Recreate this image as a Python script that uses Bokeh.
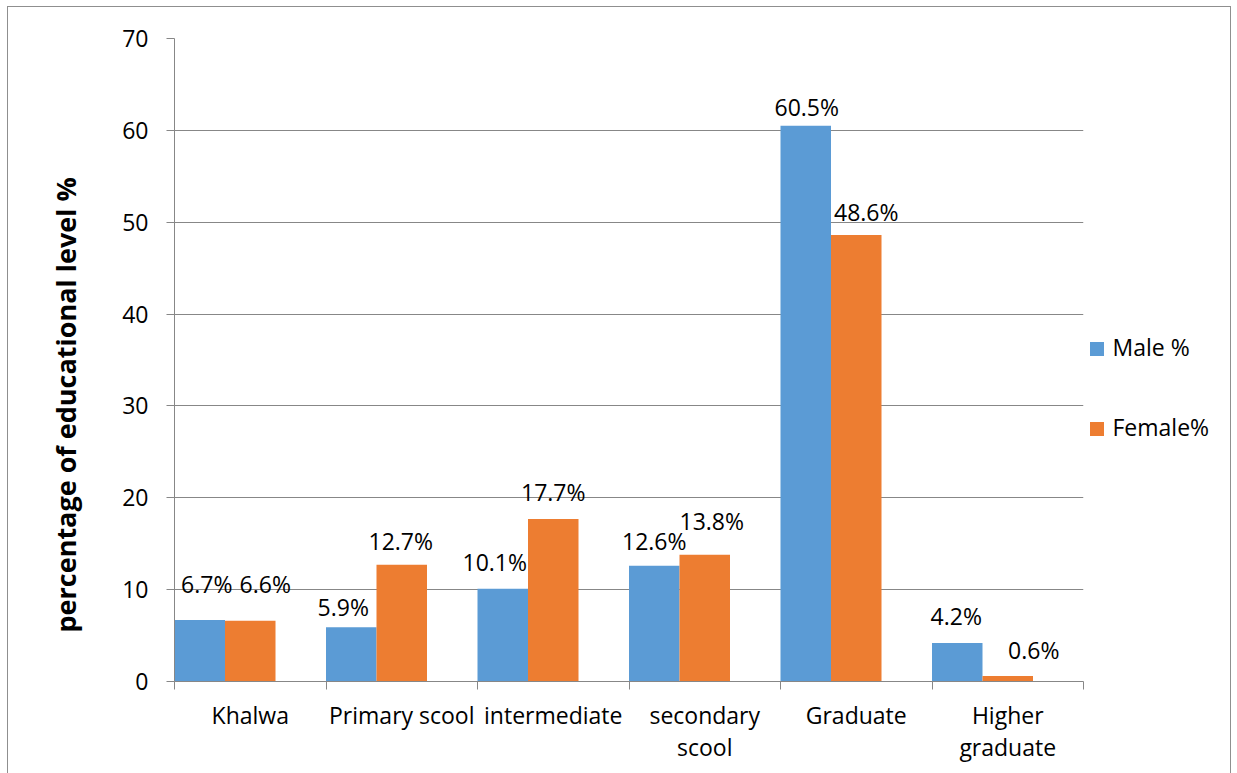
from bokeh.core.properties import value
from bokeh.embed import file_html
from bokeh.layouts import row
from bokeh.models import ColumnDataSource, FixedTicker, Range1d, Title
from bokeh.plotting import figure
from bokeh.resources import INLINE

# Education level shares by sex
categories = ["Khalwa", "Primary scool", "intermediate", "secondary\nscool",
              "Graduate", "Higher\ngraduate"]
male_pct = [6.7, 5.9, 10.1, 12.6, 60.5, 4.2]
female_pct = [6.6, 12.7, 17.7, 13.8, 48.6, 0.6]
series_names = ["Male %", "Female%"]
y_ticks = [0, 10, 20, 30, 40, 50, 60, 70]

# fine placement of the value labels (pixels: sideways, upward from bar top)
male_dx = [7, -8, -8, 0, 1, -1]
male_dy = [36, 20, 27, 25, 19, 27]
female_dx = [15, -1, 0, 7, 10, 26]
female_dy = [37, 24, 27, 34, 23, 26]

FONT = "Open Sans"
FS = "23px"
BLUE = "#5B9BD5"
ORANGE = "#ED7D31"
GRID = "#878787"
EDGE = "1px solid #8f8f8f"
H = 766

n = len(categories)
bar_w = 1.0 / 3.0

p = figure(width=1076, height=H, x_range=(0, n), y_range=(0, 70),
           output_backend="svg", toolbar_location=None,
           min_border_left=165, min_border_right=1,
           min_border_top=31, min_border_bottom=92)
p.outline_line_color = None
p.background_fill_color = "white"
p.border_fill_color = "white"

male_src = ColumnDataSource(dict(
    x=[i + bar_w / 2 for i in range(n)], top=male_pct,
    label=[f"{v}%" for v in male_pct], dx=male_dx,
    dy=[-d for d in male_dy]))
female_src = ColumnDataSource(dict(
    x=[i + 1.5 * bar_w for i in range(n)], top=female_pct,
    label=[f"{v}%" for v in female_pct], dx=female_dx,
    dy=[-d for d in female_dy]))

p.vbar(x="x", top="top", bottom=0, width=bar_w, source=male_src,
       fill_color=BLUE, line_color=None)
p.vbar(x="x", top="top", bottom=0, width=bar_w, source=female_src,
       fill_color=ORANGE, line_color=None)

for src in (male_src, female_src):
    p.text(x="x", y="top", text="label", x_offset="dx", y_offset="dy",
           source=src, text_align="center", text_baseline="middle",
           text_font=value(FONT), text_font_size=FS, text_color="#000000")

# category axis: labels centred in each slot, tick marks on slot edges
xa = p.xaxis[0]
xa.ticker = FixedTicker(ticks=[i + 0.5 for i in range(n)],
                        minor_ticks=list(range(n + 1)))
xa.major_label_overrides = {i + 0.5: c for i, c in enumerate(categories)}
xa.major_tick_out = 0
xa.major_tick_in = 0
xa.minor_tick_out = 8
xa.minor_tick_in = 0
xa.minor_tick_line_color = GRID
xa.axis_line_color = GRID
xa.major_label_standoff = 9
xa.major_label_text_font = FONT
xa.major_label_text_font_size = FS
xa.major_label_text_line_height = 1.02
xa.major_label_text_color = "#000000"

ya = p.yaxis[0]
ya.ticker = FixedTicker(ticks=y_ticks)
ya.major_tick_out = 8
ya.major_tick_in = 0
ya.minor_tick_out = 0
ya.minor_tick_in = 0
ya.major_tick_line_color = GRID
ya.axis_line_color = GRID
ya.major_label_standoff = 18
ya.major_label_text_font = FONT
ya.major_label_text_font_size = FS
ya.major_label_text_color = "#000000"

p.xgrid.grid_line_color = None
p.ygrid.grid_line_color = GRID
p.ygrid.grid_line_width = 1

# y-axis caption, set a little below the frame's middle
p.add_layout(Title(text="percentage of educational level %", align="left",
                   offset=49, standoff=72, text_font=FONT,
                   text_font_style="bold", text_font_size="27px",
                   text_color="#000000"), "left")

# legend panel to the right of the chart; its frame lines up with the
# chart frame, so the y range is given in page pixels (top 38, bottom 681)
lg = figure(width=146, height=H, x_range=Range1d(0, 146),
            y_range=Range1d(681, 38), output_backend="svg",
            toolbar_location=None, min_border=0)
lg.axis.visible = False
lg.grid.grid_line_color = None
lg.outline_line_color = None
lg.background_fill_color = "white"
lg.border_fill_color = "white"

key_src = ColumnDataSource(dict(
    name=series_names, color=[BLUE, ORANGE],
    sx=[12.5, 12.5], sy=[348.5, 428.5], tx=[28, 28], ty=[346.5, 426.5]))
lg.scatter(x="sx", y="sy", marker="square", size=14, source=key_src,
           fill_color="color", line_color=None)
lg.text(x="tx", y="ty", text="name", source=key_src, text_align="left",
        text_baseline="middle", text_font=value(FONT), text_font_size=FS,
        text_color="#000000")

layout = row(p, lg, spacing=0)
layout.margin = (6, 0, 0, 7)
layout.styles = {"border-top": EDGE, "border-left": EDGE, "border-right": EDGE}

open("out.html", "w").write(file_html(layout, INLINE))
